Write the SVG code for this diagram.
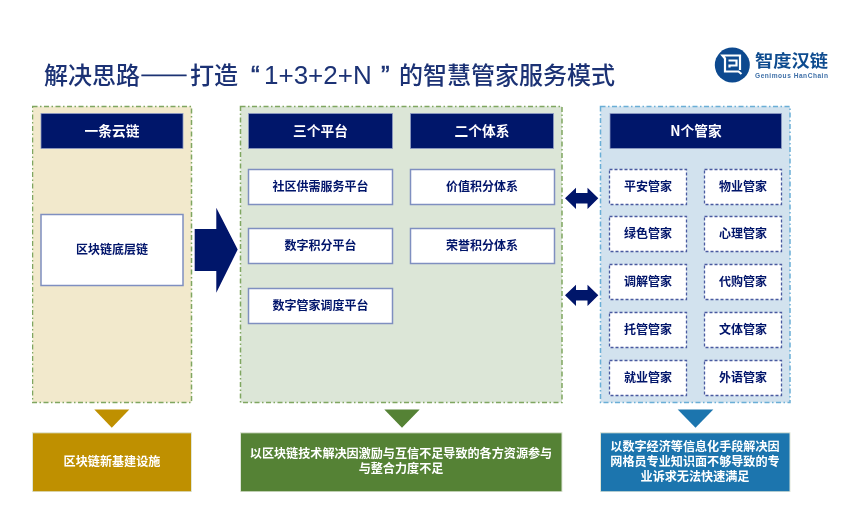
<svg xmlns="http://www.w3.org/2000/svg" width="860" height="519" viewBox="0 0 860 519">
<defs>
<style>
text{font-family:"Noto Sans CJK SC","Noto Sans",sans-serif;text-anchor:middle}
.h{fill:#00126a;stroke:#8f9cc4;stroke-width:.8}
.ht{fill:#fff;font-size:13.7px;font-weight:700}
.b{fill:#fff;stroke:#7f8fc0;stroke-width:1.5}
.d{fill:#fff;stroke:#4a5aa0;stroke-width:1.3;stroke-dasharray:3 2}
.t{fill:#00126a;font-size:12px;font-weight:700}
.w{fill:#fff;font-size:12.1px;font-weight:700}
.p{stroke-width:1.5;stroke-dasharray:5 2.5 1.5 2.5}
.o{stroke:#dfe6d8;stroke-width:1}
.n{fill:#00126a}
.l{font-family:"Liberation Sans",sans-serif;font-size:26px;font-weight:400}
</style>
<filter id="s" x="0" y="0" width="100%" height="100%"><feGaussianBlur stdDeviation="0.6"/></filter>
</defs>
<rect width="860" height="519" fill="#fff"/>
<g filter="url(#s)">
<text id="title" y="84" style="text-anchor:start;font-size:24px;font-weight:500;fill:#1b3274" lang="zh-CN"><tspan x="44">解决思路</tspan><tspan x="140" font-weight="700" stroke="#1b3274" stroke-width=".7">——</tspan><tspan x="190">打造</tspan><tspan class="l" x="251" stroke="#1b3274" stroke-width=".5">“</tspan><tspan class="l" x="264">1+3+2+N</tspan><tspan class="l" x="381" stroke="#1b3274" stroke-width=".5">”</tspan><tspan x="399">的智慧管家服务模式</tspan></text>
<g id="logo">
<circle cx="732.3" cy="65" r="17.5" fill="#0c4a8f"/>
<path d="M741.5 74L738.5 71.5H725V58.5L722.5 55.5H740V70" fill="none" stroke="#fff" stroke-width="2.2"/>
<path d="M728.5 60.5H736.5V65.5H729.5V67.5" fill="none" stroke="#fff" stroke-width="2.2"/>
<text x="791.5" y="66.5" style="font-size:16.5px;font-weight:700;fill:#0f4c8f" textLength="73" lengthAdjust="spacingAndGlyphs">智度汉链</text>
<text x="791.5" y="78" style="font-family:'Liberation Sans',sans-serif;font-size:6.6px;font-weight:700;fill:#3f70a8" textLength="73">Genimous HanChain</text>
</g>
<g id="panel-chain">
<rect class="p" x="32.5" y="106.5" width="159" height="296" fill="#f2e9cc" stroke="#7fa660"/>
<rect class="h" x="41" y="113.5" width="142" height="35"/><text class="ht" x="112" y="135.8">一条云链</text>
</g>
<g id="node-chain"><rect class="b" x="41" y="214.5" width="142" height="71"/><text class="t" x="112" y="254">区块链底层链</text></g>
<g id="panel-platform">
<rect class="p" x="240.5" y="106.5" width="321.5" height="296" fill="#dce6d7" stroke="#7fa660"/>
<rect class="h" x="248.5" y="113.5" width="144" height="35"/><text class="ht" x="320.5" y="135.8">三个平台</text>
<rect class="h" x="410.5" y="113.5" width="143" height="35"/><text class="ht" x="482" y="135.8">二个体系</text>
</g>
<g id="node-p1"><rect class="b" x="248.5" y="169.5" width="144" height="35"/><text class="t" x="320.5" y="191.2">社区供需服务平台</text></g>
<g id="node-p2"><rect class="b" x="248.5" y="228.5" width="144" height="35"/><text class="t" x="320.5" y="250.2">数字积分平台</text></g>
<g id="node-p3"><rect class="b" x="248.5" y="288.5" width="144" height="35"/><text class="t" x="320.5" y="310.2">数字管家调度平台</text></g>
<g id="node-s1"><rect class="b" x="410.5" y="169.5" width="144" height="35"/><text class="t" x="482" y="191.2">价值积分体系</text></g>
<g id="node-s2"><rect class="b" x="410.5" y="228.5" width="144" height="35"/><text class="t" x="482" y="250.2">荣誉积分体系</text></g>
<g id="panel-stewards">
<rect class="p" x="600.5" y="106.5" width="189.5" height="296" fill="#d2e2ee" stroke="#6aaed6"/>
<rect class="h" x="610" y="113.5" width="171.5" height="35"/><text class="ht" x="696" y="135.8">N个管家</text>
</g>
<g id="node-m1"><rect class="d" x="609.5" y="169.5" width="77" height="35"/><text class="t" x="648" y="191.2">平安管家</text></g>
<g id="node-m2"><rect class="d" x="704.5" y="169.5" width="77" height="35"/><text class="t" x="743" y="191.2">物业管家</text></g>
<g id="node-m3"><rect class="d" x="609.5" y="216.5" width="77" height="35"/><text class="t" x="648" y="238.2">绿色管家</text></g>
<g id="node-m4"><rect class="d" x="704.5" y="216.5" width="77" height="35"/><text class="t" x="743" y="238.2">心理管家</text></g>
<g id="node-m5"><rect class="d" x="609.5" y="264.5" width="77" height="35"/><text class="t" x="648" y="286.2">调解管家</text></g>
<g id="node-m6"><rect class="d" x="704.5" y="264.5" width="77" height="35"/><text class="t" x="743" y="286.2">代购管家</text></g>
<g id="node-m7"><rect class="d" x="609.5" y="312.5" width="77" height="35"/><text class="t" x="648" y="334.2">托管管家</text></g>
<g id="node-m8"><rect class="d" x="704.5" y="312.5" width="77" height="35"/><text class="t" x="743" y="334.2">文体管家</text></g>
<g id="node-m9"><rect class="d" x="609.5" y="360.5" width="77" height="35"/><text class="t" x="648" y="382.2">就业管家</text></g>
<g id="node-m10"><rect class="d" x="704.5" y="360.5" width="77" height="35"/><text class="t" x="743" y="382.2">外语管家</text></g>
<g id="connectors">
<path class="n" d="M194.7 229H216.3V207.7L237.7 249.5L216.3 292.7V271H194.7Z"/>
<path class="n" d="M565 198.3L576 187.7V193H587.5V187.7L598.3 198.3L587.5 209V203.6H576V209Z"/>
<path class="n" d="M565 295.3L576 284.7V290H587.5V284.7L598.3 295.3L587.5 306V300.6H576V306Z"/>
<path d="M94.3 409.5H129.3L111.8 427.7Z" fill="#bf9000"/>
<path d="M384.3 409.5H419.7L402 427.7Z" fill="#548235"/>
<path d="M677.7 409.5H713.3L695.5 427.7Z" fill="#1b75ae"/>
</g>
<g id="out-chain"><rect class="o" x="32.5" y="432.8" width="159" height="59" fill="#bf9000"/><text class="w" x="112" y="466">区块链新基建设施</text></g>
<g id="out-platform"><rect class="o" x="240.5" y="432.8" width="321.5" height="59" fill="#548235"/><text class="w" y="458.3"><tspan x="401">以区块链技术解决因激励与互信不足导致的各方资源参与</tspan><tspan x="401" dy="15">与整合力度不足</tspan></text></g>
<g id="out-stewards"><rect class="o" x="600.5" y="432.8" width="189.5" height="59" fill="#1b75ae"/><text class="w" y="451"><tspan x="695">以数字经济等信息化手段解决因</tspan><tspan x="695" dy="15">网格员专业知识面不够导致的专</tspan><tspan x="695" dy="15">业诉求无法快速满足</tspan></text></g>
</g>
</svg>
